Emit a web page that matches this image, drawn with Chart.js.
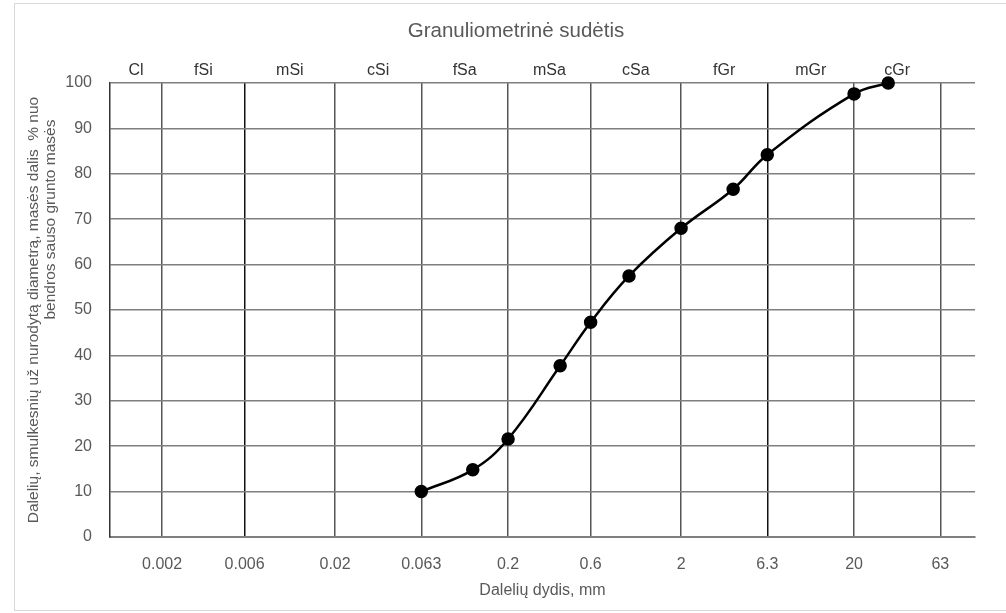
<!DOCTYPE html>
<html>
<head>
<meta charset="utf-8">
<script src="https://cdn.jsdelivr.net/npm/chart.js@4/dist/chart.umd.min.js"></script>
<style>
	html, body { margin: 0; padding: 0; background: #fff; }
	#wrap { width: 1006px; height: 613px; }
</style>
</head>
<body>
<div id="wrap"><canvas id="grading"></canvas></div>
<script>
'use strict'

// sieve sizes (mm) and passing (%)
const sizes = [0.063, 0.125, 0.2, 0.4, 0.6, 1, 2, 4, 6.3, 20, 31.5];
const passing = [10, 14.8, 21.6, 37.7, 47.3, 57.5, 68, 76.6, 84.2, 97.6, 100];

// bottom axis ticks (class boundaries)
const sizeTicks = [0.002, 0.006, 0.02, 0.063, 0.2, 0.6, 2, 6.3, 20, 63];
const sizeTickLabels = ['0.002', '0.006', '0.02', '0.063', '0.2', '0.6', '2', '6.3', '20', '63'];
const heavyTicks = [0.006, 6.3];

// soil fraction names and the boundaries around them
const fractionNames = ['Cl', 'fSi', 'mSi', 'cSi', 'fSa', 'mSa', 'cSa', 'fGr', 'mGr', 'cGr'];
const fractionEdges = [0.001, 0.002, 0.006, 0.02, 0.063, 0.2, 0.6, 2, 6.3, 20, 63];

const xMin = 0.001;
const xMax = 100;

const textGrey = '#595959';
const fontFamily = '"Liberation Sans", Arial, sans-serif';

// the second title line sits off-centre in the original (wrapped with spaces)
const yTitle = [
	'Dalelių, smulkesnių už nurodytą diametrą, masės dalis  % nuo',
	'\u00a0'.repeat(42) + 'bendros sauso grunto masės',
];

const frame = {
	id: 'frame',
	beforeDraw(chart) {
		const c = chart.ctx;
		c.save();
		c.strokeStyle = '#d9d9d9';
		c.lineWidth = 1;
		c.strokeRect(14.5, 3.5, 1000, 607);
		c.restore();
	}
};

const points = sizes.map((s, i) => ({ x: s, y: passing[i] }));

new Chart(document.getElementById('grading'), {
	type: 'line',
	data: {
		datasets: [{
			data: points,
			borderColor: '#000',
			borderWidth: 2.5,
			tension: 0.4,
			pointRadius: 5.5,
			pointBackgroundColor: '#000',
			pointBorderColor: '#000',
			clip: false,
		}],
	},
	plugins: [frame],
	options: {
		responsive: true,
		maintainAspectRatio: false,
		animation: false,
		layout: {
			padding: { left: 26, right: 0, top: 0, bottom: 0 },
		},
		plugins: {
			legend: { display: false },
			tooltip: { enabled: false },
			title: {
				display: true,
				text: 'Granuliometrinė sudėtis',
				color: textGrey,
				font: { family: fontFamily, size: 20.5, weight: 'normal' },
				padding: { top: 19, bottom: 0 },
			},
		},
		scales: {
			x: {
				type: 'logarithmic',
				position: 'bottom',
				min: xMin,
				max: xMax,
				afterBuildTicks: (scale) => {
					scale.ticks = sizeTicks.map(v => ({ value: v }));
				},
				afterFit: (scale) => { scale.height = 76; },
				ticks: {
					autoSkip: false,
					maxRotation: 0,
					padding: 18,
					color: textGrey,
					font: { family: fontFamily, size: 16 },
					callback: (v, i) => sizeTickLabels[i],
				},
				grid: {
					drawTicks: false,
					lineWidth: 1.5,
					color: (ctx) => heavyTicks.includes(ctx.tick && ctx.tick.value) ? '#111' : '#555',
				},
				border: { color: '#7f7f7f', width: 2 },
				title: {
					display: true,
					text: 'Dalelių dydis, mm',
					color: textGrey,
					font: { family: fontFamily, size: 16 },
					padding: { top: 0, bottom: 13 },
				},
			},
			xTop: {
				type: 'logarithmic',
				position: 'top',
				min: xMin,
				max: xMax,
				afterBuildTicks: (scale) => {
					scale.ticks = fractionNames.map((n, i) => ({ value: Math.sqrt(fractionEdges[i] * fractionEdges[i + 1]) }));
				},
				afterFit: (scale) => { scale.height = 39.4; },
				ticks: {
					autoSkip: false,
					maxRotation: 0,
					padding: 3,
					color: '#333',
					font: { family: fontFamily, size: 16 },
					callback: (v, i) => fractionNames[i],
				},
				grid: { display: false, drawTicks: false },
				border: { display: false },
			},
			y: {
				type: 'linear',
				min: 0,
				max: 100,
				afterFit: (scale) => { scale.width = 84; },
				ticks: {
					stepSize: 10,
					padding: 18,
					color: textGrey,
					font: { family: fontFamily, size: 16 },
				},
				grid: {
					drawTicks: false,
					lineWidth: 1.5,
					color: '#7f7f7f',
				},
				border: { color: '#333', width: 1.5 },
				title: {
					display: true,
					text: yTitle,
					color: textGrey,
					font: { family: fontFamily, size: 15.5, lineHeight: 1.05 },
					padding: { top: 0, bottom: 0 },
				},
			},
			yRight: {
				type: 'linear',
				position: 'right',
				min: 0,
				max: 100,
				afterFit: (scale) => { scale.width = 31; },
				ticks: { display: false },
				grid: { display: false, drawTicks: false },
				border: { display: false },
			},
		},
	},
});
</script>
</body>
</html>
